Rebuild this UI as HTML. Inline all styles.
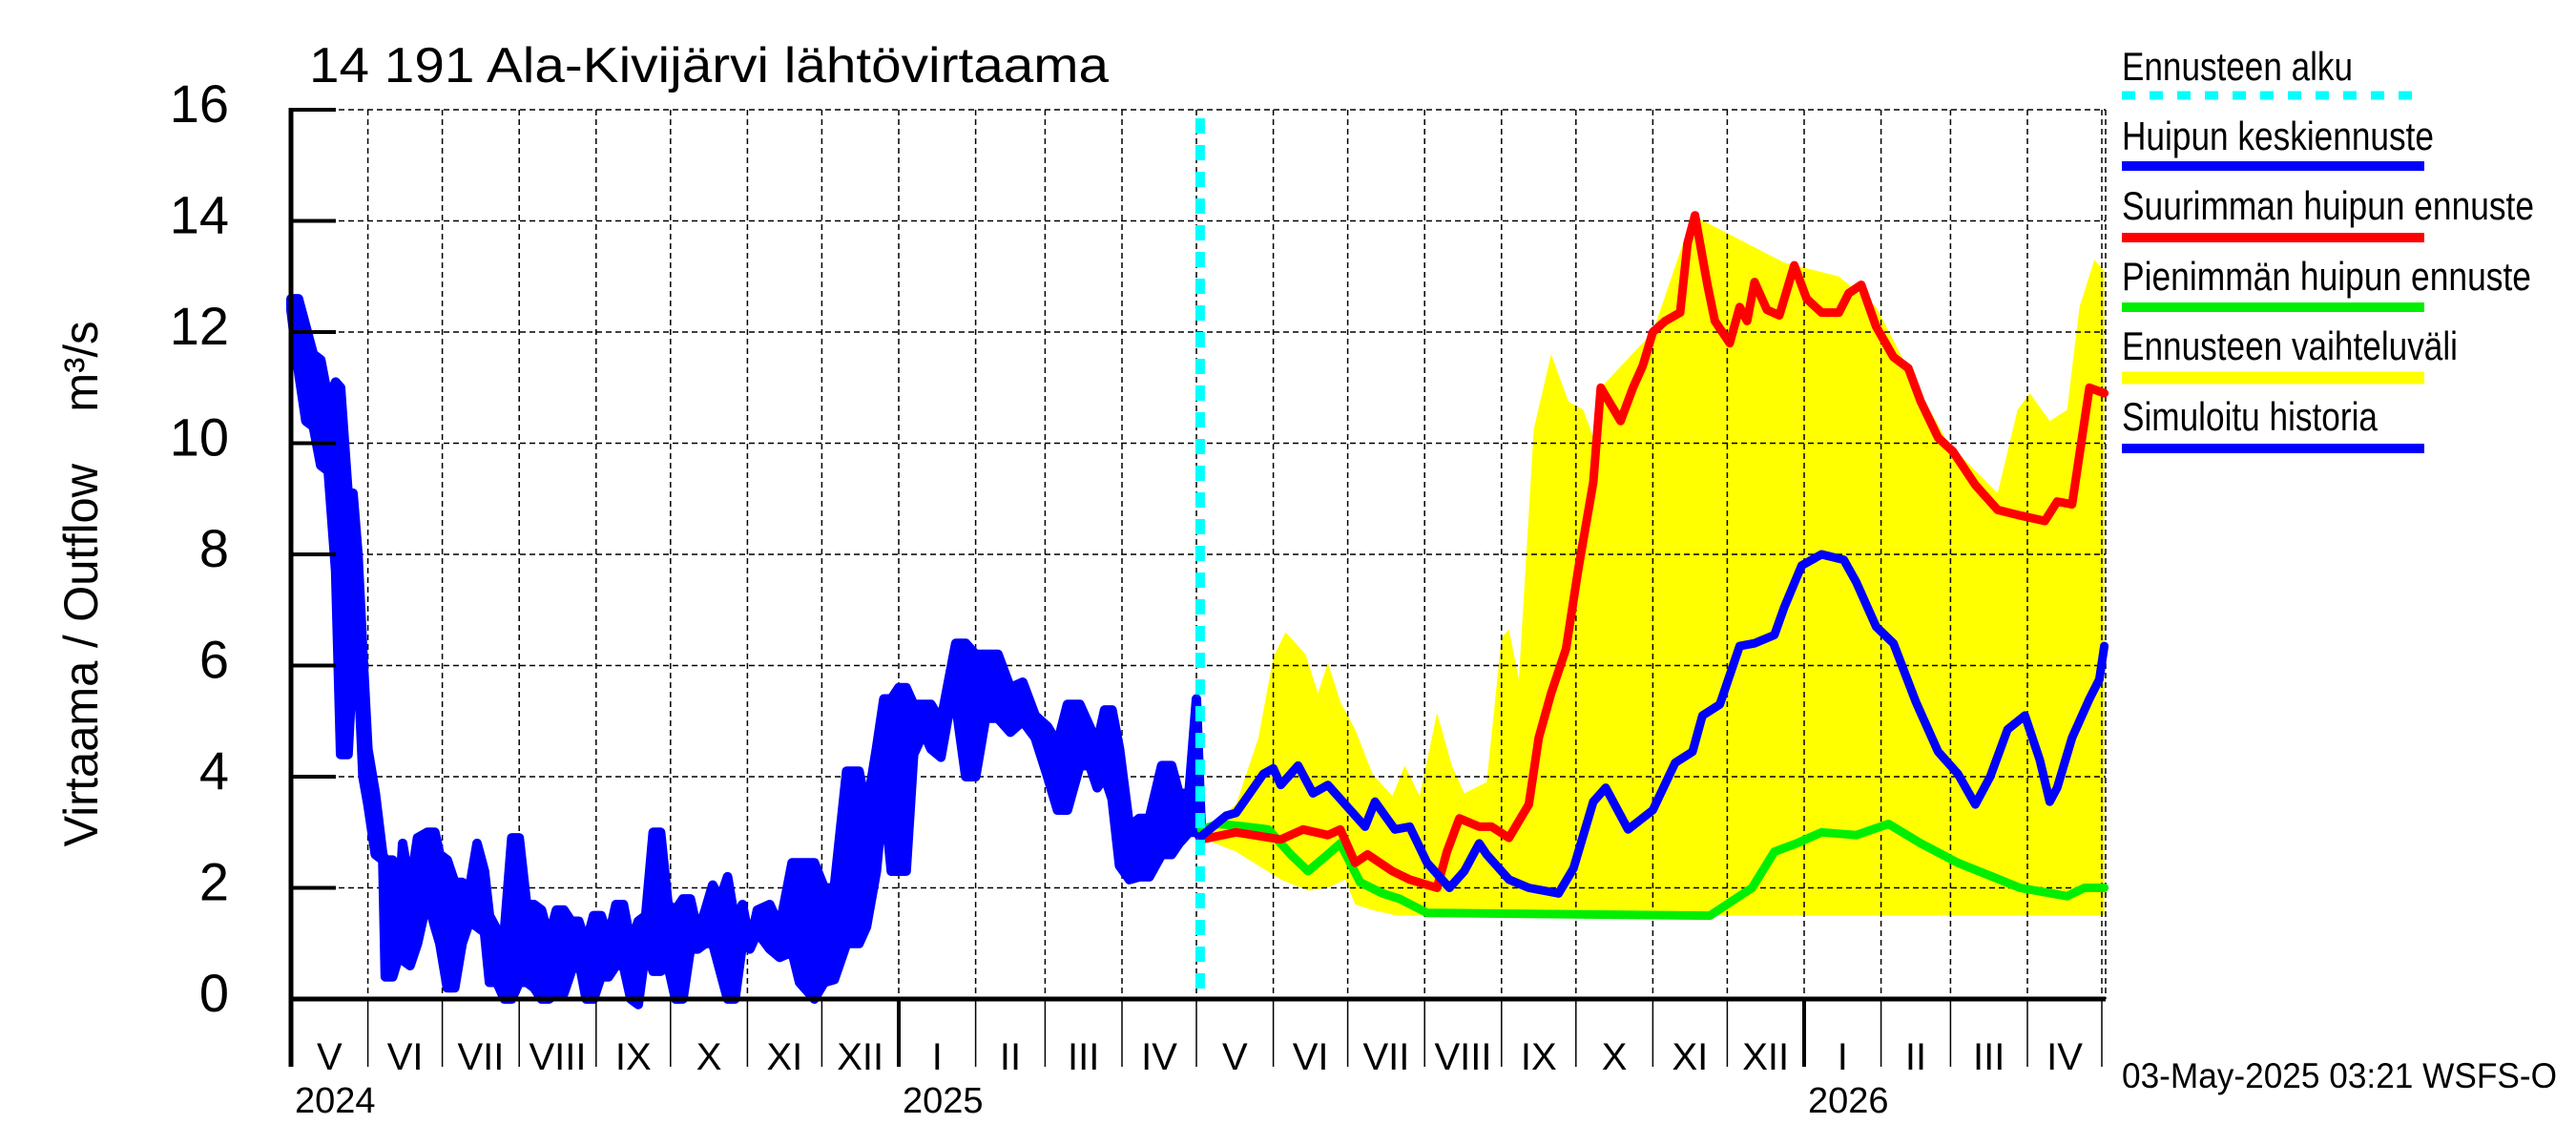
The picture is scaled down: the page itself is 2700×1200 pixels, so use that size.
<!DOCTYPE html>
<html><head><meta charset="utf-8">
<style>
html,body{margin:0;padding:0;background:#fff;}
svg{display:block;font-family:"Liberation Sans",Arial,sans-serif;}
</style></head>
<body>
<svg id="chart" width="2700" height="1200" viewBox="0 0 2700 1200" xmlns="http://www.w3.org/2000/svg">
<rect x="0" y="0" width="2700" height="1200" fill="#fff"/>
<g id="bandLayer"></g>
<g id="gridLayer"></g>
<g id="seriesLayer"></g>
<g id="axisLayer"></g>
<text x="324" y="86" font-size="52" textLength="838" lengthAdjust="spacingAndGlyphs">14 191 Ala-Kivijärvi lähtövirtaama</text>
<text transform="translate(102,612) rotate(-90)" text-anchor="middle" font-size="50" textLength="551" lengthAdjust="spacingAndGlyphs">Virtaama / Outflow&#160;&#160;&#160;&#160;m³/s</text>
<g>
<text x="2224" y="84" font-size="42" textLength="242" lengthAdjust="spacingAndGlyphs">Ennusteen alku</text>
<line x1="2224" y1="100" x2="2541" y2="100" stroke="#00ffff" stroke-width="9" stroke-dasharray="14 15"/>
<text x="2224" y="157" font-size="42" textLength="327" lengthAdjust="spacingAndGlyphs">Huipun keskiennuste</text>
<line x1="2224" y1="174" x2="2541" y2="174" stroke="#0000ff" stroke-width="10"/>
<text x="2224" y="230" font-size="42" textLength="432" lengthAdjust="spacingAndGlyphs">Suurimman huipun ennuste</text>
<line x1="2224" y1="249" x2="2541" y2="249" stroke="#ff0000" stroke-width="10"/>
<text x="2224" y="304" font-size="42" textLength="429" lengthAdjust="spacingAndGlyphs">Pienimmän huipun ennuste</text>
<line x1="2224" y1="322" x2="2541" y2="322" stroke="#00ee00" stroke-width="10"/>
<text x="2224" y="377" font-size="42" textLength="352" lengthAdjust="spacingAndGlyphs">Ennusteen vaihteluväli</text>
<line x1="2224" y1="396" x2="2541" y2="396" stroke="#ffff00" stroke-width="13"/>
<text x="2224" y="451" font-size="42" textLength="268" lengthAdjust="spacingAndGlyphs">Simuloitu historia</text>
<line x1="2224" y1="470" x2="2541" y2="470" stroke="#0000ff" stroke-width="10"/>
</g>
<text x="2224" y="1140" font-size="37" textLength="456" lengthAdjust="spacingAndGlyphs">03-May-2025 03:21 WSFS-O</text>
</svg>
<script>
// days since 1 May 2024
const histDays = [0,3,6,9,12,15,18,20,23,25,27,29,31,34,37,38,41,43,45,48,51,55,58,60,63,66,69,72,75,78,80,83,86,89,92,95,98,101,104,107,110,113,116,119,122,125,128,131,134,137,140,143,146,149,152,155,158,161,164,167,170,173,176,179,182,185,188,193,197,202,205,211,215,219,224,229,232,236,239,242,245,248,251,255,258,262,265,268,272,276,280,285,290,295,300,305,309,313,318,322,325,328,331,334,338,342,346,351,355,358,362,365,367];
const histHigh = [12.6,12.6,12.1,11.6,11.5,10.8,11.1,11.0,9.1,9.1,8.0,6.2,4.5,3.7,2.6,2.5,2.5,1.3,2.8,2.0,2.9,3.0,3.0,2.6,2.5,2.1,2.1,2.0,2.8,2.3,1.5,1.25,1.2,2.9,2.9,1.7,1.7,1.6,1.1,1.6,1.6,1.4,1.4,1.0,1.5,1.5,1.1,1.7,1.7,1.0,1.4,1.5,3.0,3.0,1.7,1.6,1.8,1.8,1.2,1.6,2.05,1.8,2.2,1.4,1.7,1.0,1.6,1.7,1.3,2.45,2.45,2.45,2.0,2.0,4.1,4.1,3.4,4.5,5.4,5.4,5.6,5.6,5.3,5.3,5.3,5.0,5.7,6.4,6.4,6.2,6.2,6.2,5.6,5.7,5.1,4.9,4.6,5.3,5.3,4.9,4.6,5.2,5.2,4.5,3.1,3.25,3.25,4.2,4.2,3.7,3.7,5.4,3.0];
const histLow = [12.4,11.3,10.4,10.3,9.6,9.5,7.7,4.4,4.4,6.1,6.0,4.0,3.5,2.6,2.5,0.4,0.4,0.7,0.7,0.6,1.0,1.8,1.3,1.0,0.2,0.2,1.0,1.4,1.3,1.2,0.3,0.3,0.0,0.0,0.3,0.3,0.2,0.0,0.0,0.1,0.1,0.5,0.7,0.0,0.0,0.4,0.4,0.6,0.6,0.0,-0.1,0.9,0.5,0.5,0.6,0.0,0.0,0.9,0.9,1.0,1.0,0.5,0.0,0.0,1.0,0.9,1.2,0.9,0.75,0.85,0.3,0.0,0.3,0.35,1.0,1.0,1.3,2.3,3.7,2.3,2.3,2.3,4.4,4.8,4.5,4.35,5.1,5.3,4.0,4.0,5.05,5.05,4.8,5.0,4.7,4.0,3.4,3.4,4.2,4.2,3.8,4.0,3.6,2.4,2.15,2.2,2.2,2.6,2.6,2.8,3.0,3.0,2.9];

const meanDays = [367,377,381,392,396,399,406,412,418,423,433,437,445,451,458,467,473,479,482,491,499,511,517,525,530,539,549,558,565,569,576,584,590,598,602,609,617,626,631,639,646,655,664,672,679,685,692,699,705,709,712,718,725,729,731];
const meanVals = [2.93,3.3,3.35,4.05,4.15,3.85,4.2,3.7,3.85,3.6,3.1,3.55,3.05,3.1,2.45,2.0,2.3,2.8,2.6,2.15,2.0,1.9,2.35,3.55,3.8,3.05,3.4,4.25,4.45,5.1,5.3,6.35,6.4,6.55,7.05,7.8,8.0,7.9,7.5,6.7,6.4,5.35,4.45,4.05,3.5,4.0,4.85,5.1,4.3,3.55,3.8,4.7,5.4,5.75,6.35];

const maxDays = [367,381,399,408,418,423,429,434,444,451,462,466,471,479,484,491,499,503,508,514,519,525,528,536,541,545,549,554,560,563,566,571,574,580,584,587,590,595,600,606,611,617,624,628,633,639,646,652,657,664,670,679,688,697,707,712,718,722,725,731];
const maxVals = [2.87,3.0,2.87,3.05,2.95,3.05,2.45,2.6,2.3,2.15,2.0,2.65,3.25,3.1,3.1,2.9,3.5,4.7,5.5,6.3,7.75,9.3,11.0,10.4,11.0,11.4,12.0,12.2,12.35,13.6,14.1,12.85,12.2,11.8,12.45,12.2,12.9,12.4,12.3,13.2,12.6,12.35,12.35,12.7,12.85,12.1,11.55,11.35,10.75,10.1,9.85,9.25,8.8,8.7,8.6,8.95,8.9,10.1,11.0,10.9];

const minDays = [367,374,385,394,403,410,418,423,431,440,447,458,572,589,598,607,617,631,644,657,672,686,697,716,723,731];
const minVals = [3.05,3.15,3.1,3.05,2.6,2.3,2.6,2.8,2.1,1.9,1.8,1.55,1.5,2.0,2.65,2.8,3.0,2.95,3.15,2.8,2.45,2.2,2.0,1.85,2.0,2.0];

const rangeUpDays = [367,381,390,396,401,409,414,418,423,429,436,444,449,455,462,468,473,482,488,491,495,501,508,515,521,525,528,549,565,602,624,639,657,668,688,696,701,709,716,721,727,731];
const rangeUpVals = [3.0,3.5,4.7,6.15,6.6,6.2,5.5,6.05,5.35,4.85,4.05,3.65,4.2,3.65,5.15,4.2,3.7,3.9,6.5,6.65,5.75,10.25,11.6,10.75,10.6,10.1,11.0,12.0,14.1,13.25,13.0,12.45,10.9,10.0,9.1,10.6,10.9,10.4,10.6,12.45,13.3,13.1];
const rangeLowDays = [367,381,399,410,418,425,429,436,446,731];
const rangeLowVals = [2.9,2.65,2.15,1.95,2.0,2.15,1.7,1.6,1.5,1.5];

const yTicks = [0,2,4,6,8,10,12,14,16];
const monthStarts = [0,31,61,92,123,153,184,214,245,276,304,335,365,396,426,457,488,518,549,579,610,641,669,700,730];
const monthLabels = ["V","VI","VII","VIII","IX","X","XI","XII","I","II","III","IV","V","VI","VII","VIII","IX","X","XI","XII","I","II","III","IV"];
const yearStarts = [0,245,610];
const yearLabels = ["2024","2025","2026"];
const forecastStartDay = 366.5;

const NS = "http://www.w3.org/2000/svg";
const X0 = 305, XR = 2207, DAYPX = 2.6, Y0 = 1047, YPX = 58.25;
function xS(d){ return X0 + d * DAYPX; }
function yS(v){ return Y0 - v * YPX; }
function mk(tag, attrs, parent){
  const el = document.createElementNS(NS, tag);
  for (const k in attrs) el.setAttribute(k, attrs[k]);
  parent.appendChild(el);
  return el;
}
const band = document.getElementById('bandLayer');
const grid = document.getElementById('gridLayer');
const series = document.getElementById('seriesLayer');
const axis = document.getElementById('axisLayer');

let pts = [];
rangeUpDays.forEach((d,i)=>pts.push(xS(d).toFixed(1)+','+yS(rangeUpVals[i]).toFixed(1)));
for (let i = rangeLowDays.length-1; i >= 0; i--) pts.push(xS(rangeLowDays[i]).toFixed(1)+','+yS(rangeLowVals[i]).toFixed(1));
const rb = mk('polygon', {points: pts.join(' '), fill: '#ffff00'}, band);



yTicks.forEach(v=>{
  if (v === 0) return;
  const g = mk('line', {x1: X0, x2: XR, y1: yS(v), y2: yS(v), stroke: '#000', 'stroke-width': 1.5, 'stroke-dasharray': '6 4'}, grid);
  
  
});
monthStarts.forEach(d=>{
  if (d === 0) return;
  const g = mk('line', {x1: xS(d), x2: xS(d), y1: yS(16), y2: Y0, stroke: '#000', 'stroke-width': 1.5, 'stroke-dasharray': '6 4'}, grid);
  
  
});
const rf = mk('line', {x1: XR, x2: XR, y1: yS(16), y2: Y0, stroke: '#000', 'stroke-width': 1.5, 'stroke-dasharray': '6 4'}, grid);



pts = [];
histDays.forEach((d,i)=>pts.push(xS(d).toFixed(1)+','+yS(histHigh[i]).toFixed(1)));
for (let i = histDays.length-1; i >= 0; i--) pts.push(xS(histDays[i]).toFixed(1)+','+yS(histLow[i]).toFixed(1));
const hb = mk('polygon', {points: pts.join(' '), fill: '#0000ff', stroke: '#0000ff', 'stroke-width': 10, 'stroke-linejoin': 'round'}, series);



function line(days, vals, color, name){
  const p = days.map((d,i)=>xS(d).toFixed(1)+','+yS(vals[i]).toFixed(1)).join(' ');
  const el = mk('polyline', {points: p, fill: 'none', stroke: color, 'stroke-width': 9, 'stroke-linejoin': 'round', 'stroke-linecap': 'round'}, series);
  
  
}
line(minDays, minVals, '#00ee00', 'min-peak-forecast');
line(maxDays, maxVals, '#ff0000', 'max-peak-forecast');
line(meanDays, meanVals, '#0000ff', 'mean-peak-forecast');

const fs = mk('line', {x1: xS(forecastStartDay), x2: xS(forecastStartDay), y1: 124, y2: Y0, stroke: '#00ffff', 'stroke-width': 10, 'stroke-dasharray': '16 12'}, series);



const la = mk('line', {x1: X0, x2: X0, y1: yS(16)-2, y2: 1118, stroke: '#000', 'stroke-width': 5}, axis);


const ba = mk('line', {x1: X0, x2: XR, y1: Y0, y2: Y0, stroke: '#000', 'stroke-width': 5}, axis);


yTicks.forEach(v=>{
  const t = mk('line', {x1: X0, x2: 352, y1: yS(v), y2: yS(v), stroke: '#000', 'stroke-width': 4}, axis);
  
  
  const l = mk('text', {x: 240, y: yS(v)+13, 'font-size': 56, 'text-anchor': 'end'}, axis);
  l.textContent = String(v);
  
  
});
monthStarts.forEach((d,i)=>{
  const isYear = yearStarts.indexOf(d) >= 0 && d !== 0;
  const t = mk('line', {x1: xS(d), x2: xS(d), y1: Y0, y2: 1118, stroke: '#000', 'stroke-width': isYear ? 4 : 1.5}, axis);
  
  
  if (i < monthLabels.length){
    const cx = (xS(d) + xS(monthStarts[i+1])) / 2;
    const l = mk('text', {x: cx, y: 1121, 'font-size': 40, 'text-anchor': 'middle'}, axis);
    l.textContent = monthLabels[i];
    
    
  }
});
yearStarts.forEach((d,i)=>{
  const l = mk('text', {x: xS(d)+4, y: 1166, 'font-size': 38}, axis);
  l.textContent = yearLabels[i];
  
  
});
</script>
</body></html>
